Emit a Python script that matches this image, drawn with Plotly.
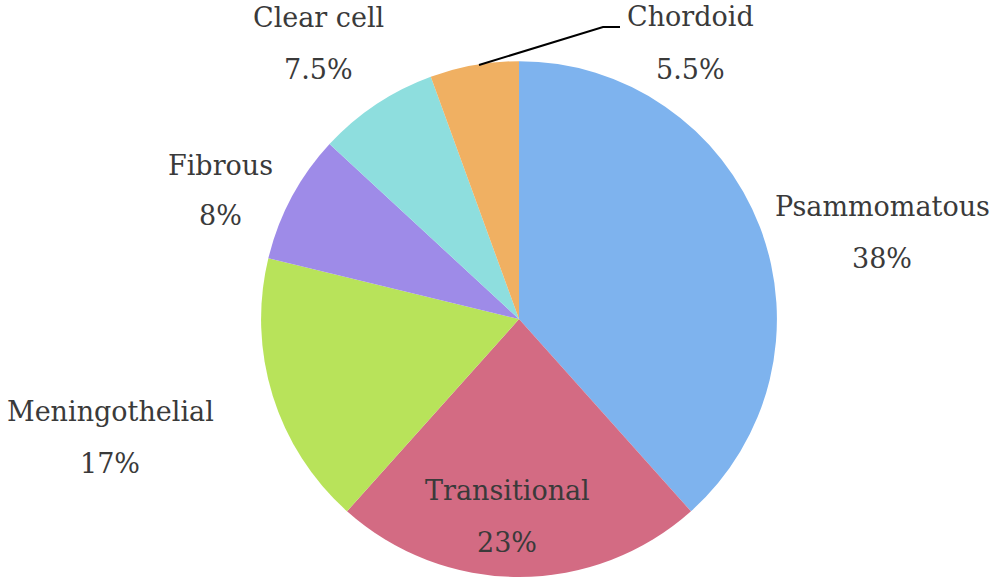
import plotly.graph_objects as go

labels = ["Psammomatous", "Transitional", "Meningothelial", "Fibrous", "Clear cell", "Chordoid"]
values = [38, 23, 17, 8, 7.5, 5.5]
pct_text = ["38%", "23%", "17%", "8%", "7.5%", "5.5%"]
colors = ["#7EB3EE", "#D36B83", "#B8E35A", "#9E8BE8", "#8EDEDE", "#F0B062"]

W, H = 1000, 577
# label anchor positions (pixels): center x, name line y, percent line y
label_pos = {
    "Psammomatous": (882, 206, 258),
    "Transitional": (507, 490, 542),
    "Meningothelial": (110, 411, 463),
    "Fibrous": (220, 165, 216),
    "Clear cell": (318, 18, 70),
    "Chordoid": (690, 17, 70),
}

fig = go.Figure(go.Pie(
    labels=labels,
    values=values,
    sort=False,
    direction="clockwise",
    rotation=0,
    marker=dict(colors=colors, line=dict(width=0)),
    textinfo="none",
    hoverinfo="label+value",
    showlegend=False,
    domain=dict(x=[0.261, 0.777], y=[0.0, 0.894]),
))

font = dict(family="DejaVu Serif, Liberation Serif, serif", size=27, color="#3a3a3a")
annotations = []
for name, pct in zip(labels, pct_text):
    cx, y1, y2 = label_pos[name]
    for txt, yy in ((name, y1), (pct, y2)):
        annotations.append(dict(
            text=txt, x=cx / W, y=1 - yy / H, xref="paper", yref="paper",
            xanchor="center", yanchor="middle", showarrow=False, font=font,
        ))

def px(x, y):
    return f"{x / W} {1 - y / H}"

fig.update_layout(
    width=W, height=H,
    margin=dict(l=0, r=0, t=0, b=0),
    paper_bgcolor="white", plot_bgcolor="white",
    annotations=annotations,
    shapes=[dict(
        type="path", xref="paper", yref="paper",
        path=f"M {px(479, 65)} L {px(603, 27)} L {px(620, 27)}",
        line=dict(color="black", width=2),
    )],
)

fig.write_html("out.html", config={"displayModeBar": False},
               post_script="document.body.style.margin='0';")
